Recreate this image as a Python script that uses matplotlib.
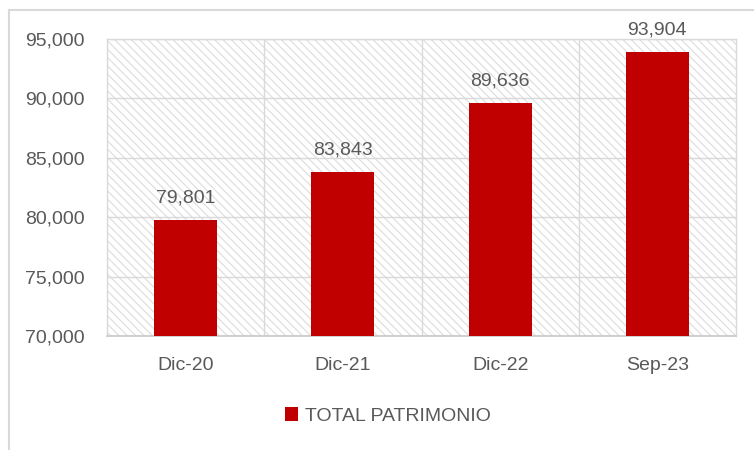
import matplotlib
matplotlib.use("Agg")
import matplotlib.pyplot as plt
from matplotlib.patches import Rectangle
from matplotlib.lines import Line2D

categories = ["Dic-20", "Dic-21", "Dic-22", "Sep-23"]
values = [79801, 83843, 89636, 93904]
yticks = [70000, 75000, 80000, 85000, 90000, 95000]
series_name = "TOTAL PATRIMONIO"

bar_color = "#C00000"
text_color = "#595959"
grid_color = "#d9d9d9"

plt.rcParams["font.family"] = ["Liberation Sans", "DejaVu Sans"]
plt.rcParams["hatch.linewidth"] = 0.8
fs = 14

fig = plt.figure(figsize=(7.54, 4.5), dpi=100)
ax = fig.add_axes([107/754, 1-336/450, (736-107)/754, (336-39)/450])

# hatched background
bg = Rectangle((0, 0), 1, 1, transform=ax.transAxes, facecolor="white",
               edgecolor="#dcdcdc", hatch="\\\\\\\\", linewidth=0, zorder=0)
ax.add_patch(bg)

x = list(range(len(categories)))
bars = ax.bar(x, values, width=0.4, color=bar_color, zorder=3, label=series_name)

ax.set_ylim(70000, 95000)
ax.set_xlim(-0.5, len(categories) - 0.5)
ax.set_yticks(yticks)
ax.set_yticklabels([f"{v:,}" for v in yticks])
ax.set_xticks(x)
ax.set_xticklabels(categories)

# gridlines
for yv in yticks:
    ax.axhline(yv, color=grid_color, lw=1.0, zorder=1)
for xv in [0.5, 1.5, 2.5]:
    ax.axvline(xv, color=grid_color, lw=1.0, zorder=1)

for s in ["top", "right", "left"]:
    ax.spines[s].set_color(grid_color)
    ax.spines[s].set_linewidth(1.0)
ax.spines["bottom"].set_color("#c8c8c8")
ax.spines["bottom"].set_linewidth(1.2)

ax.tick_params(axis="both", length=0, labelsize=fs, colors=text_color)
ax.tick_params(axis="y", pad=16)
ax.tick_params(axis="x", pad=15)

for xi, v in zip(x, values):
    ax.annotate(f"{v:,}", (xi, v), xytext=(0, 9.5), textcoords="offset points",
                ha="center", va="bottom", fontsize=fs, color=text_color)

# legend
leg = fig.legend(handles=[bars], labels=[series_name], loc="center",
                 bbox_to_anchor=(388/754, 1-416/450), frameon=False,
                 fontsize=fs, handlelength=0.67, handleheight=0.67,
                 handletextpad=0.36, labelcolor=text_color)

# outer chart border
fig.add_artist(Line2D([9/754, 1], [1-10/450, 1-10/450], color=grid_color, lw=1.5,
                      transform=fig.transFigure))
fig.add_artist(Line2D([9/754, 9/754], [0, 1-10/450], color=grid_color, lw=1.5,
                      transform=fig.transFigure))

fig.savefig("out.png", dpi=100)
